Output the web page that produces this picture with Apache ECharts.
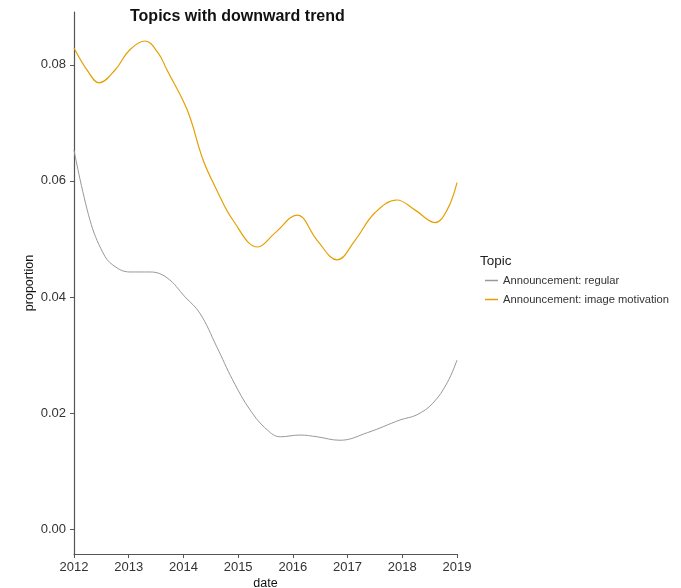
<!DOCTYPE html>
<html><head><meta charset="utf-8">
<script src="https://cdn.jsdelivr.net/npm/echarts@6/dist/echarts.min.js"></script>
<style>html,body{margin:0;padding:0;background:#fff}#c{width:681px;height:588px}</style>
</head><body><div id="c"></div>
<script>
const titleText = "Topics with downward trend";
const legendTitle = "Topic";
const seriesNames = ["Announcement: regular", "Announcement: image motivation"];
const xTicks = [2012, 2013, 2014, 2015, 2016, 2017, 2018, 2019];
const yTicks = [0.00, 0.02, 0.04, 0.06, 0.08];
const regularYears = [2012.0, 2012.29, 2012.53, 2012.71, 2013.02, 2013.39, 2013.7, 2014.03, 2014.3, 2014.61, 2014.9, 2015.22, 2015.53, 2015.77, 2016.13, 2016.44, 2016.86, 2017.36, 2017.96, 2018.27, 2018.56, 2018.82, 2019.0];
const regularValues = [0.0653, 0.0533, 0.0476, 0.0455, 0.0443, 0.0443, 0.0433, 0.0400, 0.0372, 0.0314, 0.0257, 0.0205, 0.0171, 0.0159, 0.0162, 0.0159, 0.0153, 0.0166, 0.0188, 0.0197, 0.0217, 0.0252, 0.0291];
const imageYears = [2012.0, 2012.24, 2012.46, 2012.75, 2013.02, 2013.3, 2013.54, 2013.7, 2014.07, 2014.36, 2014.61, 2014.9, 2015.36, 2015.67, 2016.08, 2016.44, 2016.81, 2017.14, 2017.5, 2017.9, 2018.23, 2018.6, 2018.82, 2019.0];
const imageValues = [0.0829, 0.0791, 0.0769, 0.0791, 0.0826, 0.0841, 0.0820, 0.0791, 0.0722, 0.0636, 0.0584, 0.0533, 0.0486, 0.0510, 0.0541, 0.0498, 0.0464, 0.0498, 0.0545, 0.0567, 0.0550, 0.0528, 0.0550, 0.0597];
const colors = ["#999999", "#E69F00"];

const zip = (a, b) => a.map((v, i) => [v, b[i]]);
const font = "Liberation Sans, Arial, sans-serif";
const chart = echarts.init(document.getElementById('c'), null, {renderer: 'canvas'});
chart.setOption({
  backgroundColor: '#fff',
  animation: false,
  title: [
    {text: titleText, left: 130, top: 9, padding: 0, textStyle: {fontFamily: font, fontSize: 16, fontWeight: 'bold', color: '#111'}},
    {text: legendTitle, left: 480, top: 254, padding: 0, textStyle: {fontFamily: font, fontSize: 13.5, fontWeight: 'normal', color: '#222'}}
  ],
  legend: {
    orient: 'vertical', left: 485, top: 275, itemGap: 8, padding: 0,
    itemWidth: 13, itemHeight: 1.5, icon: 'rect',
    textStyle: {fontFamily: font, fontSize: 11.2, color: '#333'},
    data: [
      {name: seriesNames[0], itemStyle: {color: colors[0]}},
      {name: seriesNames[1], itemStyle: {color: colors[1]}}
    ]
  },
  grid: {left: 74, right: 224, top: 12, bottom: 34, containLabel: false, outerBoundsMode: 'none'},
  xAxis: {
    type: 'value', min: 2012, max: 2019, interval: 1,
    name: 'date', nameLocation: 'middle', nameGap: 23, nameMoveOverlap: false,
    nameTextStyle: {fontFamily: font, fontSize: 12.5, color: '#111'},
    axisLine: {show: true, onZero: false, lineStyle: {color: '#555', width: 1.2}},
    axisTick: {show: true, length: 4, lineStyle: {color: '#555'}},
    axisLabel: {fontFamily: font, fontSize: 13, color: '#333', margin: 7, formatter: v => String(v)},
    splitLine: {show: false}
  },
  yAxis: {
    type: 'value', min: -0.0043, max: 0.0891,
    name: 'proportion', nameLocation: 'middle', nameGap: 38, nameRotate: 90, nameMoveOverlap: false,
    nameTextStyle: {fontFamily: font, fontSize: 12.5, color: '#111'},
    axisLine: {show: true, onZero: false, lineStyle: {color: '#555', width: 1.2}},
    axisTick: {show: true, length: 4, lineStyle: {color: '#555'}, customValues: yTicks},
    axisLabel: {fontFamily: font, fontSize: 13, color: '#333', margin: 8, customValues: yTicks, formatter: v => v.toFixed(2)},
    splitLine: {show: false}
  },
  series: [
    {name: seriesNames[0], type: 'line', data: zip(regularYears, regularValues), smooth: 0.4, showSymbol: false, lineStyle: {color: colors[0], width: 1}, itemStyle: {color: colors[0]}},
    {name: seriesNames[1], type: 'line', data: zip(imageYears, imageValues), smooth: 0.4, showSymbol: false, lineStyle: {color: colors[1], width: 1.2}, itemStyle: {color: colors[1]}}
  ]
});
</script></body></html>
